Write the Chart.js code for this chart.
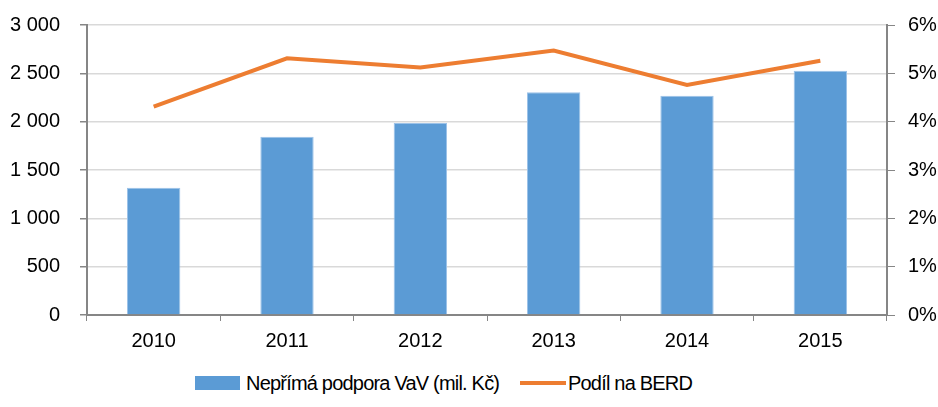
<!DOCTYPE html>
<html>
<head>
<meta charset="utf-8">
<script src="https://cdn.jsdelivr.net/npm/chart.js@4"></script>
<style>
  body { margin: 0; background: #fff; font-family: "Liberation Sans", Arial, sans-serif; }
  #wrap { position: relative; width: 938px; height: 407px; }
  #legend { position: absolute; left: 0; top: 371px; width: 938px; height: 24px; font-size: 20px; letter-spacing: -0.8px; color: #000; }
  .item { position: absolute; top: 0; display: flex; align-items: center; height: 24px; }
  .box { width: 45px; height: 14px; background: #5b9bd5; margin-right: 6px; }
  .ln { width: 46px; height: 4px; background: #ed7d31; margin-right: 2px; }
</style>
</head>
<body>
<div id="wrap">
  <canvas id="chart" width="938" height="360"></canvas>
  <div id="legend">
    <div class="item" style="left:195px"><span class="box"></span>Nepřímá podpora VaV (mil. Kč)</div>
    <div class="item" style="left:520px"><span class="ln"></span>Podíl na BERD</div>
  </div>
</div>
<script>
const years = ["2010", "2011", "2012", "2013", "2014", "2015"];
const supportValues = [1316, 1845, 1986, 2304, 2269, 2527];
const berdShare = [4.31, 5.31, 5.12, 5.47, 4.76, 5.26];

const axisGray = "#868686";
const gridGray = "#d9d9d9";
const tickFont = { family: "'Liberation Sans'", size: 20 };

function spaced(v) {
  return String(v).replace(/\B(?=(\d{3})+(?!\d))/g, " ");
}

// fixed side widths so the plot area lands where the original one is
function fixY(width) {
  return s => { s.width = width; s.paddingTop = 0; s.paddingBottom = 0; };
}

const ctx = document.getElementById("chart").getContext("2d");
new Chart(ctx, {
  data: {
    labels: years,
    datasets: [
      {
        type: "line",
        label: "Podíl na BERD",
        data: berdShare,
        yAxisID: "y1",
        borderColor: "#ed7d31",
        borderWidth: 4,
        pointRadius: 0,
        tension: 0,
        order: 0
      },
      {
        type: "bar",
        label: "Nepřímá podpora VaV (mil. Kč)",
        data: supportValues,
        yAxisID: "y",
        backgroundColor: "#5b9bd5",
        borderColor: "#9cc2e8",
        borderWidth: 1,
        categoryPercentage: 1,
        barPercentage: 0.4,
        order: 1
      }
    ]
  },
  options: {
    responsive: false,
    animation: false,
    layout: { padding: { top: 25, left: 0, right: 0, bottom: 0 } },
    plugins: { legend: { display: false }, tooltip: { enabled: false } },
    scales: {
      x: {
        offset: true,
        grid: { offset: true, drawOnChartArea: false, color: axisGray, tickLength: 6 },
        border: { color: axisGray, width: 2 },
        ticks: { color: "#000", font: tickFont, padding: 8, maxRotation: 0 },
        afterFit: s => { s.height = 45; s.paddingLeft = 0; s.paddingRight = 0; }
      },
      y: {
        position: "left",
        min: 0, max: 3000,
        ticks: { stepSize: 500, color: "#000", font: tickFont, padding: 20, callback: v => spaced(v) },
        grid: { color: gridGray, lineWidth: 1.5, tickColor: axisGray, tickLength: 7 },
        border: { color: axisGray, width: 2 },
        afterFit: fixY(87)
      },
      y1: {
        position: "right",
        min: 0, max: 6,
        ticks: { stepSize: 1, color: "#000", font: tickFont, padding: 13, callback: v => v + "%" },
        grid: { drawOnChartArea: false, tickColor: axisGray, tickLength: 8 },
        border: { color: axisGray, width: 2 },
        afterFit: fixY(51)
      }
    }
  }
});
</script>
</body>
</html>
